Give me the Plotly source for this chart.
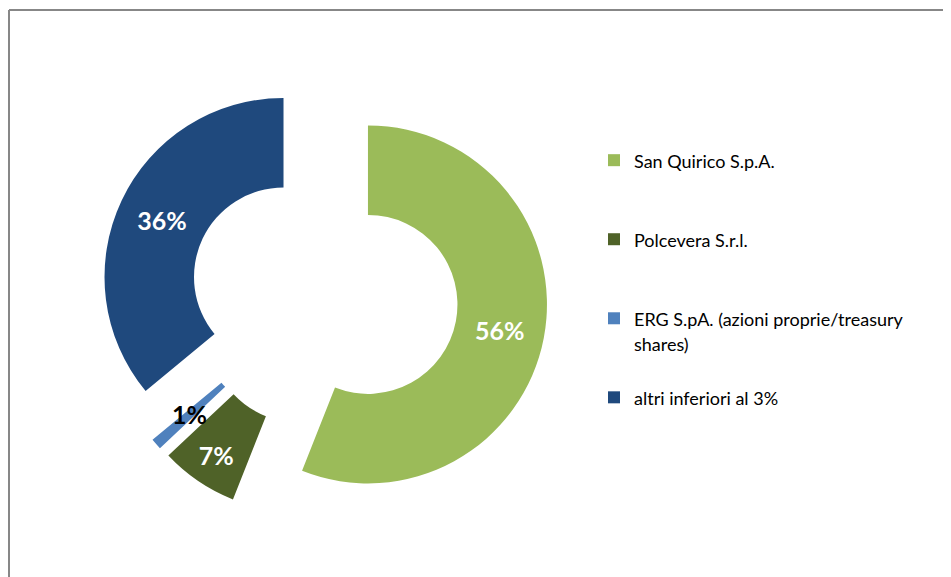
import math
import plotly.graph_objects as go

categories = ["San Quirico S.p.A.", "Polcevera S.r.l.",
              "ERG S.pA. (azioni proprie/treasury<br>shares)", "altri inferiori al 3%"]
values = [56, 7, 1, 36]
colors = ["#9BBB59", "#4F6228", "#4F81BD", "#1F497D"]
text_colors = ["white", "white", "black", "white"]

# page has an 8px body margin; figure sized so it ends at the window edge
OFF = 8
W, H = 951 - OFF, 577 - OFF

PULL = 0.25
HOLE = 0.5
CX, CY = 324 - OFF, 296 - OFF      # pie centre (figure px, from top-left)
R = 179                            # outer radius (px)
BOX = 2 * R * (1 + PULL)

def pad(label):
    n = label.count("<br>") + 1
    return "<span style='font-size:18px'>" + label + "</span>" + "<br> " * (3 - n)

legend_labels = [pad(c) for c in categories]

# slices with too little room get their label as an annotation on the ring middle
small = [v / sum(values) < 0.03 for v in values]
textpos = ["none" if s else "inside" for s in small]

fig = go.Figure()
fig.add_trace(go.Pie(
    labels=legend_labels,
    values=values,
    sort=False,
    direction="clockwise",
    rotation=0,
    hole=HOLE,
    pull=[PULL] * len(values),
    marker=dict(colors=colors, line=dict(width=0)),
    textinfo="percent",
    textposition=textpos,
    insidetextorientation="horizontal",
    textfont=dict(family="Lato", size=25, color=text_colors, weight="bold"),
    domain=dict(x=[(CX - BOX / 2) / W, (CX + BOX / 2) / W],
                y=[1 - (CY + BOX / 2) / H, 1 - (CY - BOX / 2) / H]),
    hoverinfo="label+percent",
))

annotations = []
total = sum(values)
cum = 0
for v, s, tc in zip(values, small, text_colors):
    if s:
        theta = 2 * math.pi * (cum + v / 2) / total
        rr = R * (PULL + (1 + HOLE) / 2)
        px = CX + rr * math.sin(theta)
        py = CY - rr * math.cos(theta)
        annotations.append(dict(
            x=px / W, y=1 - py / H, xref="paper", yref="paper",
            xanchor="center", yanchor="middle",
            text=f"{round(100 * v / total)}%", showarrow=False,
            font=dict(family="Lato", size=25, color=tc, weight="bold"),
        ))
    cum += v

fig.update_layout(
    width=W, height=H,
    margin=dict(l=0, r=0, t=0, b=0),
    paper_bgcolor="white",
    plot_bgcolor="white",
    showlegend=True,
    uniformtext=dict(minsize=25, mode="show"),
    annotations=annotations,
    legend=dict(
        x=(594 - OFF) / W, xanchor="left",
        y=1 - (141 - OFF) / H, yanchor="top",
        font=dict(family="Lato", size=19.5, color="black"),
        valign="top",
        bgcolor="rgba(0,0,0,0)",
    ),
    shapes=[
        dict(type="line", xref="paper", yref="paper",
             x0=(9 - OFF) / W, x1=(9 - OFF) / W, y0=0, y1=1 - (10 - OFF) / H,
             line=dict(color="#878787", width=2)),
        dict(type="line", xref="paper", yref="paper",
             x0=(9 - OFF) / W, x1=1, y0=1 - (10 - OFF) / H, y1=1 - (10 - OFF) / H,
             line=dict(color="#878787", width=2)),
    ],
)

fig.write_html("out.html")
